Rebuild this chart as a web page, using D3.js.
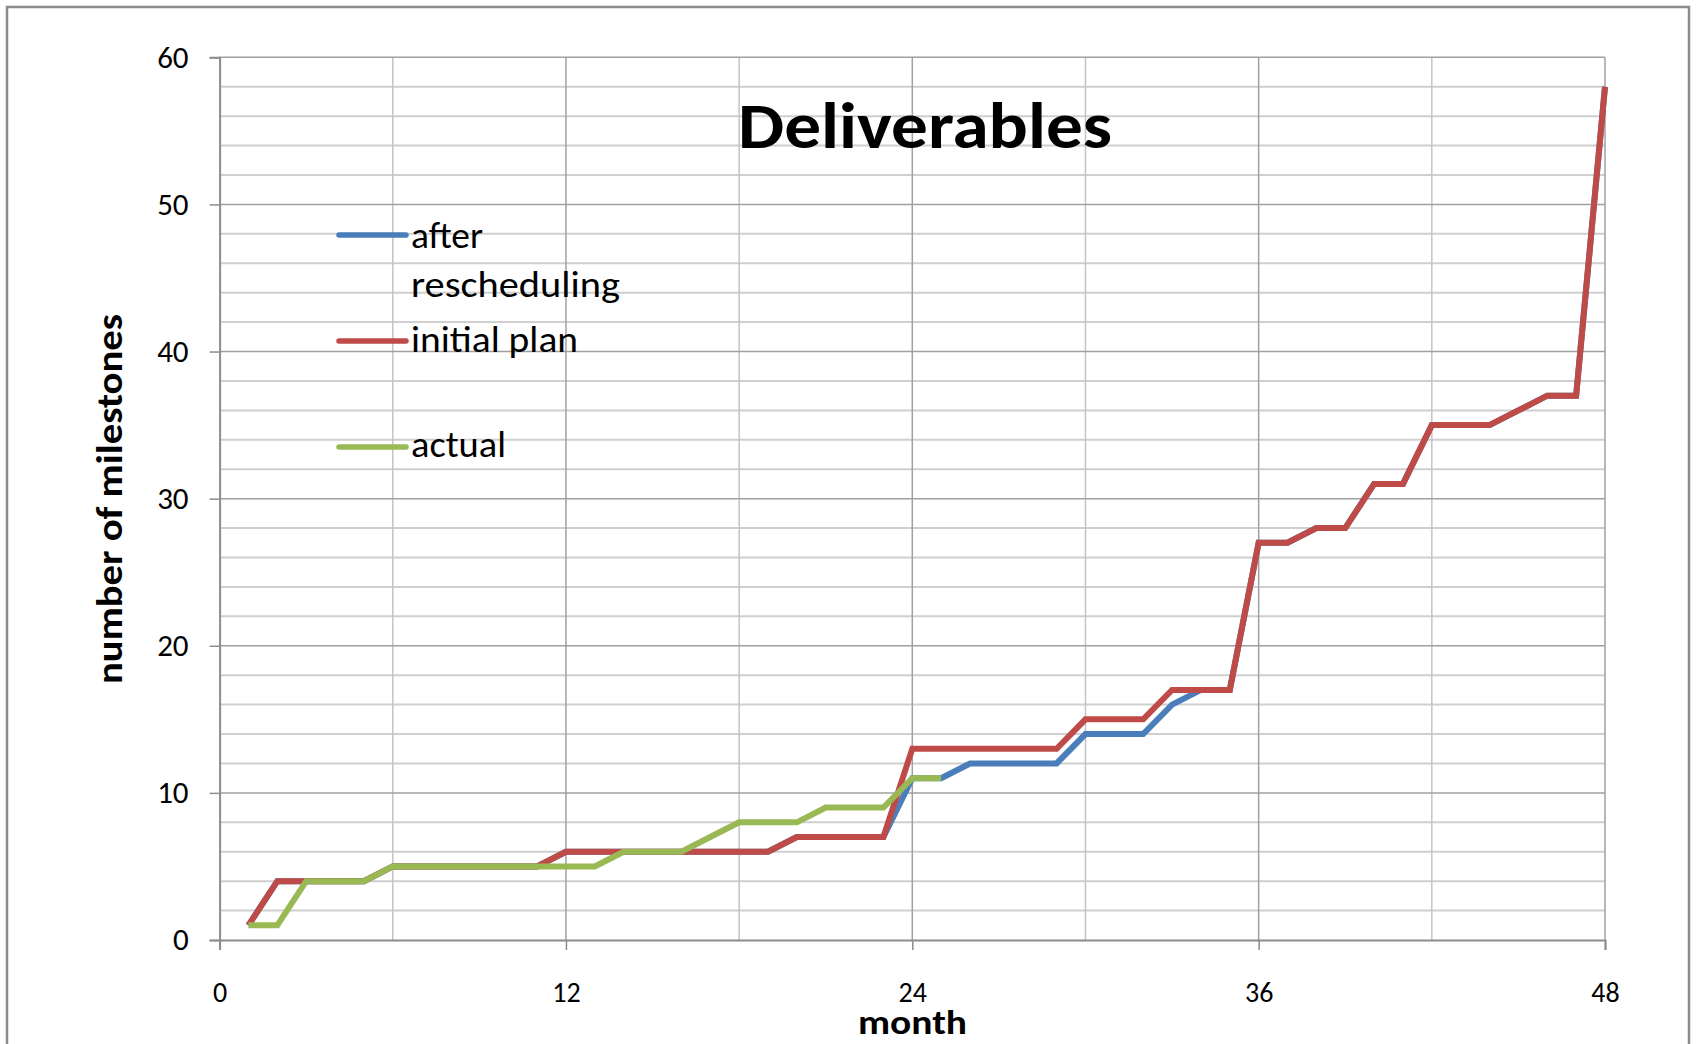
<!DOCTYPE html>
<html><head><meta charset="utf-8">
<script src="https://cdn.jsdelivr.net/npm/d3@7"></script>
<style>
html,body{margin:0;padding:0;background:#fff;}
svg{display:block;}
text{font-family:Carlito, Lato, "Open Sans", sans-serif;fill:#000;}
</style></head>
<body>
<svg id="chart" width="1696" height="1044"></svg>
<script>
const months = [1,2,3,4,5,6,7,8,9,10,11,12,13,14,15,16,17,18,19,20,21,22,23,24,25,26,27,28,29,30,31,32,33,34,35,36,37,38,39,40,41,42,43,44,45,46,47,48];
const afterRescheduling = [1,4,4,4,4,5,5,5,5,5,5,6,6,6,6,6,6,6,6,7,7,7,7,11,11,12,12,12,12,14,14,14,16,17,17,27,27,28,28,31,31,35,35,35,36,37,37,58];
const initialPlan = [1,4,4,4,4,5,5,5,5,5,5,6,6,6,6,6,6,6,6,7,7,7,7,13,13,13,13,13,13,15,15,15,17,17,17,27,27,28,28,31,31,35,35,35,36,37,37,58];
const actual = [1,1,4,4,4,5,5,5,5,5,5,5,5,6,6,6,7,8,8,8,9,9,9,11,11];
const xTicks = [0,12,24,36,48];
const xGrid = [6,12,18,24,30,36,42,48];
const yTicks = [0,10,20,30,40,50,60];
const yMinor = [2,4,6,8,12,14,16,18,22,24,26,28,32,34,36,38,42,44,46,48,52,54,56,58];
const seriesNames = ["after rescheduling","initial plan","actual"];
const seriesColors = ["#4a7ebb","#be4b48","#98b954"];

const svg = d3.select("#chart");
const x = d3.scaleLinear().domain([0,48]).range([219.6,1605]);
const y = d3.scaleLinear().domain([0,60]).range([940,57.3]);

// outer frame
svg.append("rect").attr("x",7).attr("y",7).attr("width",1682).attr("height",1060)
  .attr("fill","none").attr("stroke","#8c8c8c").attr("stroke-width",2.5);

// minor horizontal grid
svg.append("g").selectAll("line").data(yMinor).join("line")
  .attr("x1",x(0)).attr("x2",x(48)).attr("y1",d=>y(d)).attr("y2",d=>y(d))
  .attr("stroke","#cfcfcf").attr("stroke-width",2);
// vertical grid
svg.append("g").selectAll("line").data(xGrid).join("line")
  .attr("x1",d=>x(d)).attr("x2",d=>x(d)).attr("y1",y(0)).attr("y2",y(60))
  .attr("stroke",d=>d%12===0?"#a0a0a0":"#c4c4c4").attr("stroke-width",1.5);
// major horizontal grid
svg.append("g").selectAll("line").data(yTicks.filter(d=>d>0)).join("line")
  .attr("x1",x(0)).attr("x2",x(48)).attr("y1",d=>y(d)).attr("y2",d=>y(d))
  .attr("stroke","#a0a0a0").attr("stroke-width",1.5);

// axes
const xAxis = d3.axisBottom(x).tickValues(xTicks).tickSize(10).tickPadding(12).tickFormat(d3.format("d"));
const gx = svg.append("g").attr("transform",`translate(0,${y(0)})`).call(xAxis);
gx.select(".domain").attr("stroke","#8c8c8c").attr("stroke-width",2);
gx.selectAll(".tick line").attr("stroke","#8c8c8c").attr("stroke-width",1.5);
gx.selectAll(".tick text").attr("font-size",28).attr("font-family","Carlito, Lato, sans-serif").attr("fill","#000")
  .attr("y",62).attr("dy",0);

const yAxis = d3.axisLeft(y).tickValues(yTicks).tickSize(10).tickPadding(21);
const gy = svg.append("g").attr("transform",`translate(${x(0)},0)`).call(yAxis);
gy.select(".domain").attr("stroke","#8c8c8c").attr("stroke-width",2);
gy.selectAll(".tick line").attr("stroke","#8c8c8c").attr("stroke-width",1.5);
gy.selectAll(".tick text").attr("font-size",31).attr("font-family","Carlito, Lato, sans-serif").attr("fill","#000");

// series
const line = d3.line().x(d=>x(d[0])).y(d=>y(d[1]));
const seriesData = [afterRescheduling, initialPlan, actual];
seriesData.forEach((vals,i)=>{
  svg.append("path").datum(vals.map((v,j)=>[months[j],v]))
    .attr("d",line).attr("fill","none").attr("stroke",seriesColors[i])
    .attr("stroke-width",6).attr("stroke-linejoin","miter").attr("stroke-linecap","butt");
});

// title
svg.append("text").attr("x",738).attr("y",148)
  .attr("font-size",64).attr("font-weight","bold")
  .attr("textLength",374).attr("lengthAdjust","spacingAndGlyphs").text("Deliverables");

// axis titles
svg.append("text").attr("x",858).attr("y",1034)
  .attr("font-size",34).attr("font-weight","bold")
  .attr("textLength",109).attr("lengthAdjust","spacingAndGlyphs").text("month");
svg.append("text").attr("transform","translate(122,684) rotate(-90)")
  .attr("font-size",36).attr("font-weight","bold")
  .attr("textLength",370).attr("lengthAdjust","spacingAndGlyphs").text("number of milestones");

// legend
const legY = [235,341,447];
const lg = svg.append("g");
seriesNames.forEach((n,i)=>{
  lg.append("line").attr("x1",339).attr("x2",406).attr("y1",legY[i]).attr("y2",legY[i])
    .attr("stroke",seriesColors[i]).attr("stroke-width",5.5).attr("stroke-linecap","round");
});
const legText = [
  {t:"after", y:248, w:72},
  {t:"rescheduling", y:297, w:209},
  {t:"initial plan", y:352, w:167},
  {t:"actual", y:457, w:95}
];
legText.forEach(d=>{
  lg.append("text").attr("x",411).attr("y",d.y).attr("font-size",37)
    .attr("textLength",d.w).attr("lengthAdjust","spacingAndGlyphs").text(d.t);
});
</script>
</body></html>
